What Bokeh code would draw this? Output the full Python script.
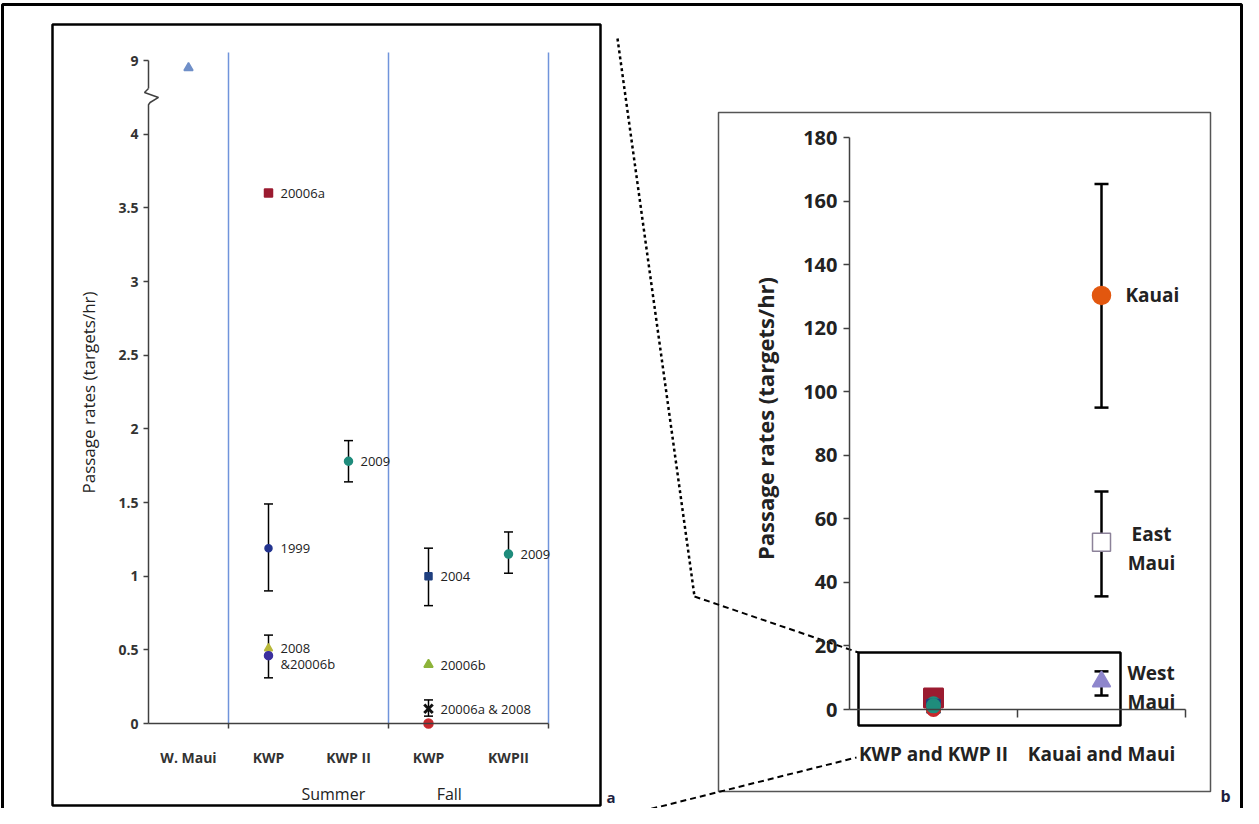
import math
from bokeh.plotting import figure
from bokeh.models import Range1d, LinearAxis, FixedTicker, ColumnDataSource
from bokeh.core.properties import value
from bokeh.embed import file_html
from bokeh.resources import INLINE

# ---------------- data ----------------
# Panel a: passage rates by site / season / survey
a_categories = ["W. Maui", "KWP", "KWP II", "KWP", "KWPII"]
a_seasons = ["Summer", "Fall"]
a_category_edges = [1, 3, 5]
a_y_ticks = [0, 0.5, 1, 1.5, 2, 2.5, 3, 3.5, 4, 9]
a_y_tick_labels = ["0", "0.5", "1", "1.5", "2", "2.5", "3", "3.5", "4", "9"]

a_cat = [0, 1, 1, 1, 1, 2, 3, 3, 3, 3, 4]
a_val = [8.8, 3.6, 1.19, 0.51, 0.46, 1.78, 1.0, 0.4, 0.1, 0.0, 1.15]
a_err_lo = [None, None, 0.9, None, 0.31, 1.64, 0.8, None, 0.05, None, 1.02]
a_err_hi = [None, None, 1.49, None, 0.6, 1.92, 1.19, None, 0.16, None, 1.3]
a_labels = ["", "20006a", "1999", "", "2008\n&20006b", "2009", "2004",
            "20006b", "20006a & 2008", "", "2009"]

# Panel b: comparison with Kauai and Maui
b_categories = ["KWP and KWP II", "Kauai and Maui"]
b_y_ticks = [0, 20, 40, 60, 80, 100, 120, 140, 160, 180]
b_sites = ["Kauai", "East\nMaui", "West\nMaui"]
b_val = [130.3, 52.6, 8.8]
b_err_lo = [95.0, 35.6, 4.4]
b_err_hi = [165.4, 68.6, 12.0]

# ---------------- styles ----------------
a_marker = ["triangle", "square", "circle", "triangle", "circle", "circle",
            "square", "triangle", "x", "circle", "circle"]
a_color = ["#6F8FC8", "#9B1B30", "#22338F", "#B8B83A", "#3B2F9E", "#1F8C7C",
           "#1F3F7F", "#8DB33A", "#111111", "#C8282D", "#1F8C7C"]
a_size = [9, 8, 7, 8, 8, 8, 7, 9, 12, 9, 8]
a_lw = [1.5, 1.5, 1.5, 1.5, 1.5, 1.5, 1.5, 1.5, 3, 1.5, 1.5]
b_marker = ["circle", "square", "triangle"]
b_fill = ["#E2570F", "white", "#8E86CC"]
b_line = ["#E2570F", "#8C8299", "#8E86CC"]
b_label_align = ["left", "center", "left"]
b_label_dx = [24, 50, 26]
b_label_dy = [0, 6, 6]

FONT = "Open Sans"
W, H = 1243, 808


def a_map(v):
    # broken axis: values above the break are compressed next to tick "9"
    return v if v <= 4.2 else 4.5 + (v - 9) * 0.25


def span(v0, px0, v1, px1, lo_px, hi_px):
    k = (v1 - v0) / (px1 - px0)
    return Range1d(start=v0 + (lo_px - px0) * k, end=v0 + (hi_px - px0) * k)


p = figure(width=W, height=H, x_range=Range1d(0, W), y_range=Range1d(H, 0),
           x_axis_location=None, y_axis_location=None, toolbar_location=None,
           output_backend="svg", min_border=0, border_fill_color="white")
p.grid.visible = False
p.outline_line_color = None

p.extra_x_ranges = {"ax": span(0, 148, 5, 548, 0, W),
                    "bx": span(0, 849, 2, 1185, 0, W)}
p.extra_y_ranges = {"ay": span(0, 723, 4.5, 60, H, 0),
                    "by": span(0, 709, 180, 137, H, 0)}
A = dict(x_range_name="ax", y_range_name="ay")
B = dict(x_range_name="bx", y_range_name="by")

# ---------------- page frame, panel frames and connector lines ----------------
p.line([2, 2, W - 2, W - 2], [H, 4, 4, H], line_color="black", line_width=3)
p.quad(left=[52], right=[600], top=[24], bottom=[805], fill_color=None,
       line_color="black", line_width=2.5)
p.quad(left=[718], right=[1210], top=[112], bottom=[791], fill_color=None,
       line_color="#555555", line_width=1.5)
p.line([617, 694], [38, 596], line_color="black", line_width=2.5, line_dash="3 3")
p.line([694, 858], [596, 652], line_color="black", line_width=2, line_dash="6 4")
p.line([612, 856], [818, 757], line_color="black", line_width=2, line_dash="6 4")

# ---------------- panel a ----------------
a_top = (723 - 52) / ((723 - 60) / 4.5)
p.segment(x0=a_category_edges, y0=[0] * 3, x1=a_category_edges, y1=[a_top] * 3,
          line_color="#7094DB", line_width=1.5, **A)

# y axis line with break
p.line([0, 0], [4.5, 4.31], line_color="#404040", line_width=1.5, **A)
p.line([0, -0.05, 0.125, 0.02, 0, 0], [4.31, 4.283, 4.249, 4.215, 4.2, 0],
       line_color="#404040", line_width=1.5, **A)

a_tick_pos = [a_map(t) for t in a_y_ticks]
ya = LinearAxis(fixed_location=0, bounds=(0, 4.5), ticker=FixedTicker(ticks=a_tick_pos),
                major_label_overrides={t: s for t, s in zip(a_tick_pos, a_y_tick_labels)},
                axis_line_color=None, major_tick_in=0, major_tick_out=5,
                major_tick_line_color="#404040", major_tick_line_width=1.5,
                minor_tick_line_color=None, major_label_standoff=5,
                major_label_text_font=FONT, major_label_text_font_size="14px",
                major_label_text_font_style="bold", major_label_text_color="#333333", **A)
p.add_layout(ya, "left")

a_centers = [i + 0.5 for i in range(len(a_categories))]
xa = LinearAxis(fixed_location=0, bounds=(0, 5),
                ticker=FixedTicker(ticks=a_centers, minor_ticks=a_category_edges),
                major_label_overrides={c: s for c, s in zip(a_centers, a_categories)},
                axis_line_color="#404040", axis_line_width=1.5,
                major_tick_line_color=None, major_tick_in=0, major_tick_out=0,
                minor_tick_in=0, minor_tick_out=5, minor_tick_line_color="#404040",
                minor_tick_line_width=1.5, major_label_standoff=19,
                major_label_text_font=FONT, major_label_text_font_size="14px",
                major_label_text_font_style="bold", major_label_text_color="#333333", **A)
p.add_layout(xa, "below")

season_x = [2.31, 3.76]
season_y = [-(793 - 723) / ((723 - 60) / 4.5)] * 2
p.text(x=season_x, y=season_y, text=a_seasons, text_align="center", text_baseline="middle",
       text_font=value(FONT), text_font_size="16px", text_color="#222222", **A)

ea = [i for i in range(len(a_val)) if a_err_lo[i] is not None]
err_a = ColumnDataSource(dict(x=[a_cat[i] + 0.5 for i in ea],
                              lo=[a_err_lo[i] for i in ea],
                              hi=[a_err_hi[i] for i in ea]))
p.segment(x0="x", y0="lo", x1="x", y1="hi", source=err_a, line_color="black",
          line_width=1.5, **A)
p.scatter(x="x", y="lo", source=err_a, marker="dash", size=9, line_color="black",
          line_width=1.5, **A)
p.scatter(x="x", y="hi", source=err_a, marker="dash", size=9, line_color="black",
          line_width=1.5, **A)

pts_a = ColumnDataSource(dict(x=[c + 0.5 for c in a_cat], y=[a_map(v) for v in a_val],
                              marker=a_marker, color=a_color, size=a_size, lw=a_lw))
p.scatter(x="x", y="y", marker="marker", size="size", fill_color="color",
          line_color="color", line_width="lw", source=pts_a, **A)

la = [i for i in range(len(a_val)) if a_labels[i]]
lab_a = ColumnDataSource(dict(x=[a_cat[i] + 0.5 for i in la], y=[a_val[i] for i in la],
                              text=[a_labels[i] for i in la]))
p.text(x="x", y="y", text="text", source=lab_a, x_offset=12, text_baseline="middle",
       text_font=value(FONT), text_font_size="13px", text_color="#222222",
       text_line_height=0.9, **A)

p.text(x=[88], y=[392], text=["Passage rates (targets/hr)"], angle=math.pi / 2,
       text_align="center", text_baseline="middle", text_font=value(FONT),
       text_font_size="17px", text_color="#222222")
p.text(x=[606], y=[796], text=["a"], text_baseline="middle", text_font=value(FONT),
       text_font_size="15px", text_font_style="bold", text_color="#1F1F3F")

# ---------------- panel b ----------------
yb = LinearAxis(fixed_location=0, bounds=(0, 180), ticker=FixedTicker(ticks=b_y_ticks),
                axis_line_color="#404040", axis_line_width=1.5, major_tick_in=0,
                major_tick_out=6, major_tick_line_color="#404040", major_tick_line_width=1.5,
                minor_tick_line_color=None, major_label_standoff=6,
                major_label_text_font=FONT, major_label_text_font_size="20px",
                major_label_text_font_style="bold", major_label_text_color="#222222", **B)
p.add_layout(yb, "left")

b_centers = [i + 0.5 for i in range(len(b_categories))]
xb = LinearAxis(fixed_location=0, bounds=(0, 2),
                ticker=FixedTicker(ticks=b_centers, minor_ticks=[1, 2]),
                major_label_overrides={c: s for c, s in zip(b_centers, b_categories)},
                axis_line_color="#404040", axis_line_width=1.5,
                major_tick_line_color=None, major_tick_in=0, major_tick_out=0,
                minor_tick_in=0, minor_tick_out=8, minor_tick_line_color="#404040",
                minor_tick_line_width=1.5, major_label_standoff=23,
                major_label_text_font=FONT, major_label_text_font_size="19px",
                major_label_text_font_style="bold", major_label_text_color="#222222", **B)
p.add_layout(xb, "below")

p.text(x=[764], y=[418], text=["Passage rates (targets/hr)"], angle=math.pi / 2,
       text_align="center", text_baseline="middle", text_font=value(FONT),
       text_font_size="22px", text_font_style="bold", text_color="#222222")

# KWP cluster (panel a values drawn at b's first category)
cl = [i for i in range(len(a_val)) if a_cat[i] > 0]
pts_c = ColumnDataSource(dict(x=[b_centers[0]] * len(cl), y=[a_val[i] for i in cl],
                              marker=[a_marker[i] for i in cl],
                              color=[a_color[i] for i in cl],
                              size=[19 if a_marker[i] == "square" and a_val[i] > 3 else 13 for i in cl]))
p.scatter(x="x", y="y", marker="marker", size="size", fill_color="color",
          line_color="color", line_width=2, source=pts_c, **B)

# Kauai / Maui error bars and points
err_b = ColumnDataSource(dict(x=[b_centers[1]] * 3, lo=b_err_lo, hi=b_err_hi))
p.segment(x0="x", y0="lo", x1="x", y1="hi", source=err_b, line_color="black",
          line_width=2.5, **B)
p.scatter(x="x", y="lo", source=err_b, marker="dash", size=14, line_color="black",
          line_width=2.5, **B)
p.scatter(x="x", y="hi", source=err_b, marker="dash", size=14, line_color="black",
          line_width=2.5, **B)
pts_b = ColumnDataSource(dict(x=[b_centers[1]] * 3, y=b_val, marker=b_marker,
                              fill=b_fill, line=b_line))
p.scatter(x="x", y="y", marker="marker", size=18, fill_color="fill", line_color="line",
          line_width=1.5, source=pts_b, **B)
for s, v, al, dx, dy in zip(b_sites, b_val, b_label_align, b_label_dx, b_label_dy):
    p.text(x=[b_centers[1]], y=[v], text=[s], x_offset=dx, y_offset=dy, text_align=al,
           text_baseline="middle", text_font=value(FONT), text_font_size="19px",
           text_font_style="bold", text_color="#222222", text_line_height=1.12, **B)

# zoom box around the KWP values
p.quad(left=[858], right=[1120], top=[652], bottom=[725], fill_color=None,
       line_color="black", line_width=2.5)
p.text(x=[1220], y=[795], text=["b"], text_baseline="middle", text_font=value(FONT),
       text_font_size="16px", text_font_style="bold", text_color="#1F1F3F")

open("out.html", "w").write(file_html(p, INLINE))
